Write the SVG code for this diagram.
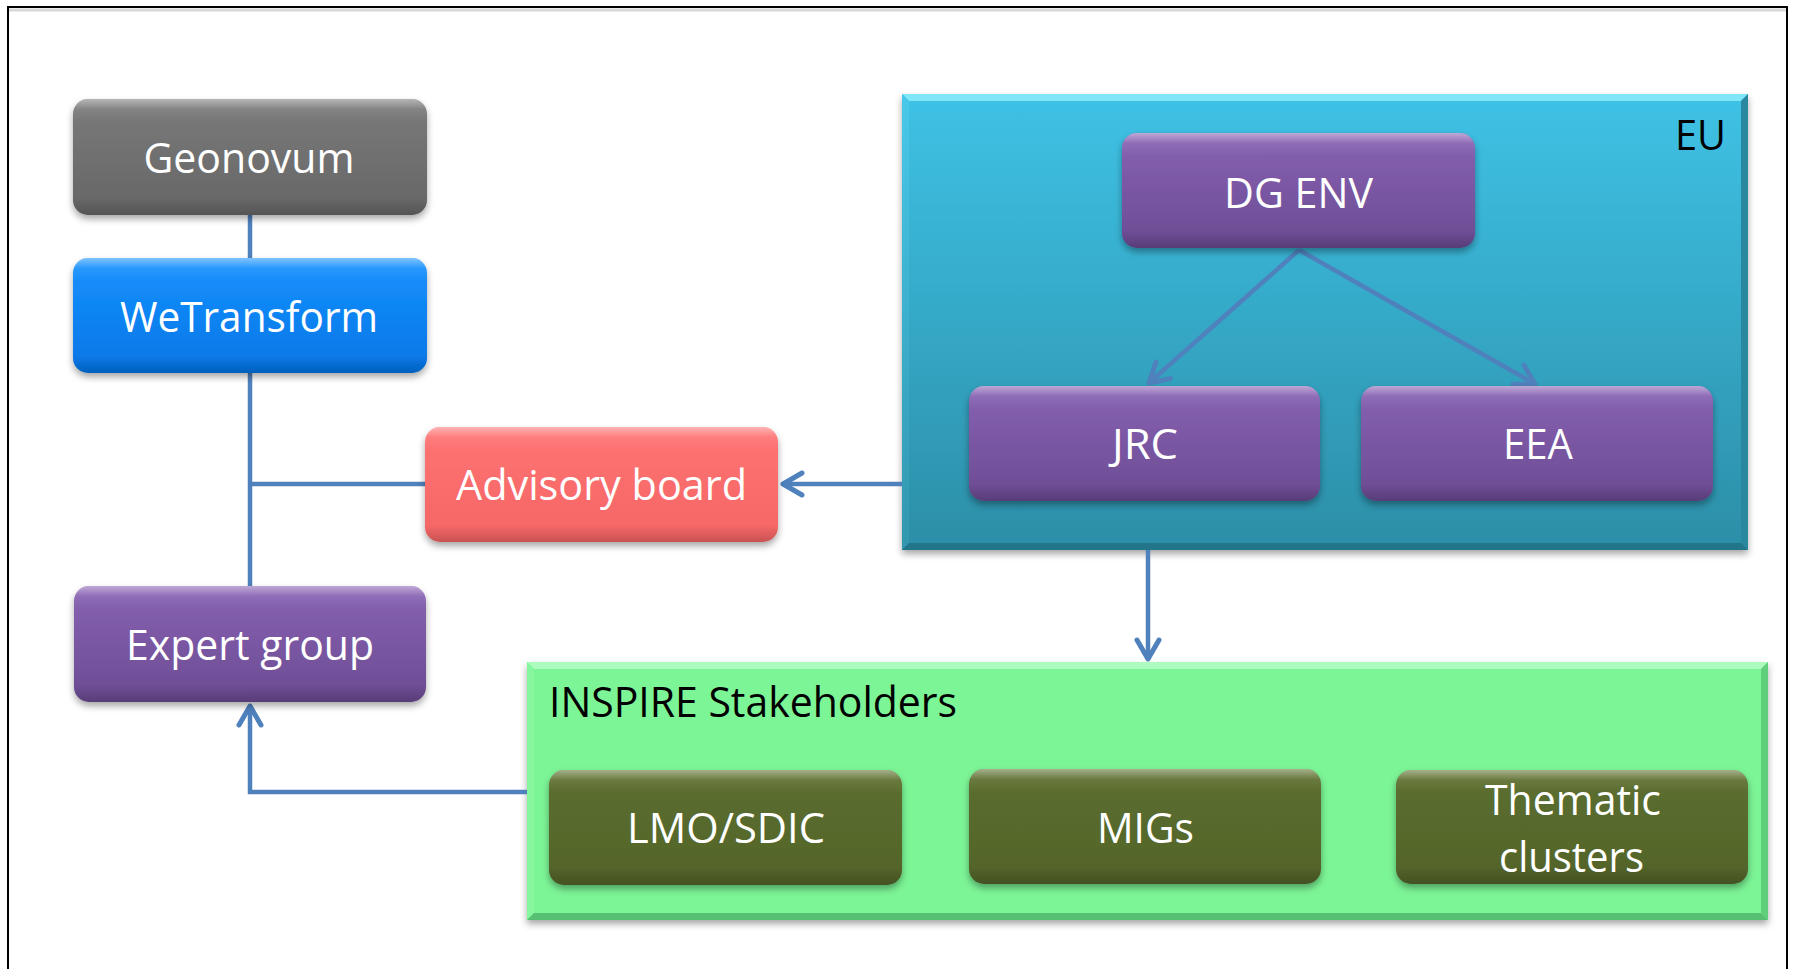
<svg xmlns="http://www.w3.org/2000/svg" width="1795" height="969" viewBox="0 0 1795 969">
<style>
.lbl{font-family:"Open Sans","Liberation Sans",sans-serif;font-size:42px;fill:#ffffff;text-anchor:middle}
.cap{font-family:"Open Sans","Liberation Sans",sans-serif;font-size:42px;fill:#000000}
.conn{fill:none;stroke:#4F81BD;stroke-width:4.5}
</style>
<defs>
<filter id="sh" x="-10%" y="-10%" width="120%" height="130%">
<feDropShadow dx="0" dy="4" stdDeviation="3.5" flood-color="#000" flood-opacity="0.35"/>
</filter>
<linearGradient id="gloss" x1="0" y1="0" x2="0" y2="1">
<stop offset="0" stop-color="#fff" stop-opacity="0.45"/>
<stop offset="0.09" stop-color="#fff" stop-opacity="0.08"/>
<stop offset="0.2" stop-color="#fff" stop-opacity="0"/>
<stop offset="0.85" stop-color="#000" stop-opacity="0"/>
<stop offset="1" stop-color="#000" stop-opacity="0.18"/>
</linearGradient>
<linearGradient id="gGray" x1="0" y1="0" x2="0" y2="1"><stop offset="0" stop-color="#7a7a7a"/><stop offset="1" stop-color="#666666"/></linearGradient>
<linearGradient id="gBlue" x1="0" y1="0" x2="0" y2="1"><stop offset="0" stop-color="#1892ff"/><stop offset="1" stop-color="#0575e6"/></linearGradient>
<linearGradient id="gRed" x1="0" y1="0" x2="0" y2="1"><stop offset="0" stop-color="#ff7474"/><stop offset="1" stop-color="#f56565"/></linearGradient>
<linearGradient id="gPur" x1="0" y1="0" x2="0" y2="1"><stop offset="0" stop-color="#8862b3"/><stop offset="1" stop-color="#6b4b92"/></linearGradient>
<linearGradient id="gOli" x1="0" y1="0" x2="0" y2="1"><stop offset="0" stop-color="#5c6f2f"/><stop offset="1" stop-color="#52632a"/></linearGradient>
<linearGradient id="gEU" x1="0" y1="0" x2="0" y2="1"><stop offset="0" stop-color="#3ec2e6"/><stop offset="1" stop-color="#2c8ea7"/></linearGradient>
<linearGradient id="gEUl" x1="0" y1="0" x2="0" y2="1"><stop offset="0" stop-color="#48c8ea"/><stop offset="1" stop-color="#3196ae"/></linearGradient>
<marker id="arr" markerUnits="userSpaceOnUse" viewBox="-24 -14 28 28" refX="0" refY="0" markerWidth="28" markerHeight="28" orient="auto">
<path d="M-19,-11 L0,0 L-19,11" fill="none" stroke="#4F81BD" stroke-width="5" stroke-linecap="round" stroke-linejoin="round"/>
</marker>
</defs>
<rect x="0" y="0" width="1795" height="969" fill="#ffffff"/>
<rect x="8" y="7" width="1779" height="975" fill="none" stroke="#000" stroke-width="2"/>
<line x1="9" y1="10" x2="1786" y2="10" stroke="#d8d8d8" stroke-width="3"/>

<g id="eu">
<rect x="902" y="94" width="846" height="456" fill="url(#gEU)" filter="url(#sh)"/>
<polygon points="902,94 1748,94 1741,101 909,101" fill="#7fe6f7"/>
<polygon points="902,94 909,101 909,543 902,550" fill="url(#gEUl)"/>
<polygon points="1748,94 1748,550 1741,543 1741,101" fill="#2a87a0"/>
<polygon points="902,550 1748,550 1741,543 909,543" fill="#237689"/>
<text class="cap" x="1675" y="150" textLength="51" lengthAdjust="spacingAndGlyphs">EU</text>
</g>

<g id="inspire">
<rect x="527" y="662" width="1241" height="258" fill="#7cf596" filter="url(#sh)"/>
<polygon points="527,662 1768,662 1761,669 534,669" fill="#aefbc0"/>
<polygon points="527,662 534,669 534,913 527,920" fill="#86f79f"/>
<polygon points="1768,662 1768,920 1761,913 1761,669" fill="#5fcf7c"/>
<polygon points="527,920 1768,920 1761,913 534,913" fill="#56bf72"/>
<text class="cap" x="549" y="717" textLength="408" lengthAdjust="spacingAndGlyphs">INSPIRE Stakeholders</text>
</g>

<g id="connectors">
<line class="conn" x1="250" y1="215" x2="250" y2="258"/>
<line class="conn" x1="250" y1="373" x2="250" y2="586"/>
<line class="conn" x1="248" y1="484" x2="425" y2="484"/>
<line class="conn" x1="902" y1="484" x2="783" y2="484" marker-end="url(#arr)"/>
<line class="conn" x1="1148" y1="550" x2="1148" y2="659" marker-end="url(#arr)"/>
<path class="conn" d="M527,792 H250 V706" marker-end="url(#arr)"/>
<line class="conn" x1="1299" y1="250" x2="1149" y2="383" marker-end="url(#arr)"/>
<line class="conn" x1="1299" y1="250" x2="1535" y2="384" marker-end="url(#arr)"/>
</g>

<g id="geonovum">
<rect x="73" y="99" width="354" height="116" rx="15" fill="url(#gGray)" filter="url(#sh)"/>
<rect x="73" y="99" width="354" height="116" rx="15" fill="url(#gloss)"/>
<text class="lbl" x="249" y="173" textLength="211" lengthAdjust="spacingAndGlyphs">Geonovum</text>
</g>
<g id="wetransform">
<rect x="73" y="258" width="354" height="115" rx="15" fill="url(#gBlue)" filter="url(#sh)"/>
<rect x="73" y="258" width="354" height="115" rx="15" fill="url(#gloss)"/>
<text class="lbl" x="249" y="332" textLength="258" lengthAdjust="spacingAndGlyphs">WeTransform</text>
</g>
<g id="advisory">
<rect x="425" y="427" width="353" height="115" rx="15" fill="url(#gRed)" filter="url(#sh)"/>
<rect x="425" y="427" width="353" height="115" rx="15" fill="url(#gloss)"/>
<text class="lbl" x="601.5" y="500" textLength="291" lengthAdjust="spacingAndGlyphs">Advisory board</text>
</g>
<g id="expert">
<rect x="74" y="586" width="352" height="116" rx="15" fill="url(#gPur)" filter="url(#sh)"/>
<rect x="74" y="586" width="352" height="116" rx="15" fill="url(#gloss)"/>
<text class="lbl" x="250" y="660" textLength="248" lengthAdjust="spacingAndGlyphs">Expert group</text>
</g>
<g id="dgenv">
<rect x="1122" y="133" width="353" height="115" rx="15" fill="url(#gPur)" filter="url(#sh)"/>
<rect x="1122" y="133" width="353" height="115" rx="15" fill="url(#gloss)"/>
<text class="lbl" x="1298.5" y="208" textLength="149" lengthAdjust="spacingAndGlyphs">DG ENV</text>
</g>
<g id="jrc">
<rect x="969" y="386" width="351" height="115" rx="15" fill="url(#gPur)" filter="url(#sh)"/>
<rect x="969" y="386" width="351" height="115" rx="15" fill="url(#gloss)"/>
<text class="lbl" x="1145" y="459" textLength="66" lengthAdjust="spacingAndGlyphs">JRC</text>
</g>
<g id="eea">
<rect x="1361" y="386" width="352" height="115" rx="15" fill="url(#gPur)" filter="url(#sh)"/>
<rect x="1361" y="386" width="352" height="115" rx="15" fill="url(#gloss)"/>
<text class="lbl" x="1538" y="459" textLength="70" lengthAdjust="spacingAndGlyphs">EEA</text>
</g>
<g id="lmo">
<rect x="549" y="770" width="353" height="115" rx="15" fill="url(#gOli)" filter="url(#sh)"/>
<rect x="549" y="770" width="353" height="115" rx="15" fill="url(#gloss)"/>
<text class="lbl" x="726" y="843" textLength="198" lengthAdjust="spacingAndGlyphs">LMO/SDIC</text>
</g>
<g id="migs">
<rect x="969" y="769" width="352" height="115" rx="15" fill="url(#gOli)" filter="url(#sh)"/>
<rect x="969" y="769" width="352" height="115" rx="15" fill="url(#gloss)"/>
<text class="lbl" x="1145.5" y="843" textLength="97" lengthAdjust="spacingAndGlyphs">MIGs</text>
</g>
<g id="thematic">
<rect x="1396" y="770" width="352" height="114" rx="15" fill="url(#gOli)" filter="url(#sh)"/>
<rect x="1396" y="770" width="352" height="114" rx="15" fill="url(#gloss)"/>
<text class="lbl" x="1573" y="815" textLength="176" lengthAdjust="spacingAndGlyphs">Thematic</text>
<text class="lbl" x="1571.5" y="872" textLength="145" lengthAdjust="spacingAndGlyphs">clusters</text>
</g>
</svg>
